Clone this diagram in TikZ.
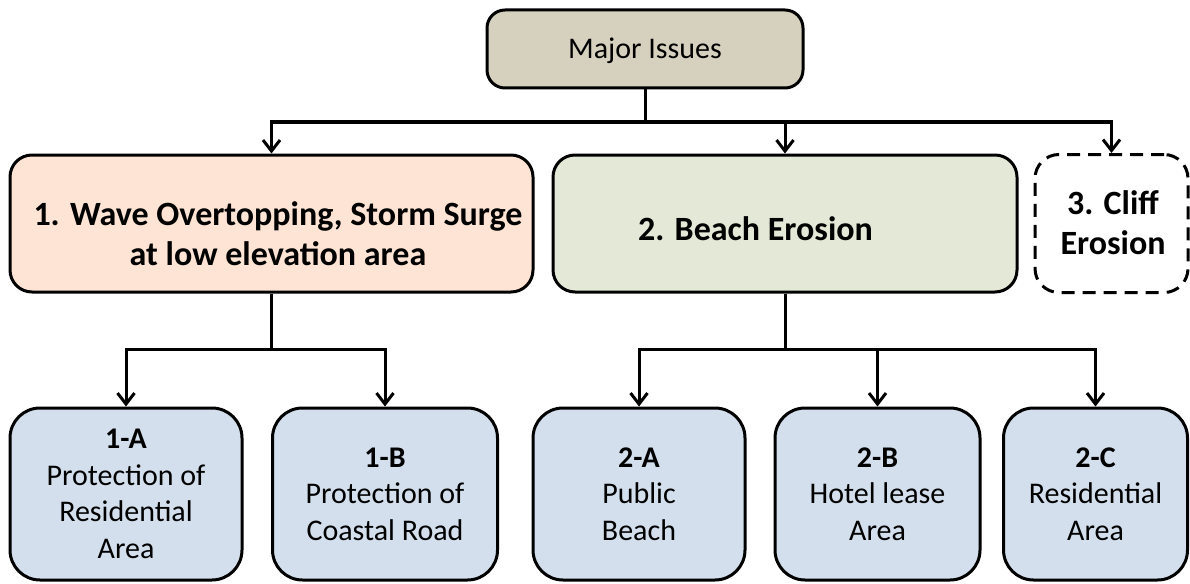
\documentclass[tikz,border=0pt]{standalone}
\usepackage{fontspec}
\setmainfont{Carlito}
\usetikzlibrary{arrows.meta}
\definecolor{topfill}{RGB}{214,209,190}
\definecolor{onefill}{RGB}{253,228,212}
\definecolor{twofill}{RGB}{227,232,215}
\definecolor{leaffill}{RGB}{211,223,236}
\tikzset{
  box/.style={draw=black, line width=3pt, inner sep=0pt, rounded corners=22pt},
  leafbox/.style={box, fill=leaffill, rounded corners=30pt, minimum height=172pt},
  conn/.style={line width=3pt, draw=black},
  arr/.style={conn, -{Straight Barb[length=11pt,width=17pt]}},
  boldtxt/.style={font=\fontsize{34pt}{40pt}\selectfont\bfseries, align=center, inner sep=0pt},
  regtxt/.style={font=\fontsize{30pt}{36.6pt}\selectfont, align=center, inner sep=0pt},
}
\begin{document}
\begin{tikzpicture}[x=1pt, y=-1pt]
\useasboundingbox (0,0) rectangle (1190,583);
% top
\node[box, fill=topfill, rounded corners=18pt, minimum width=316pt, minimum height=78pt] (top) at (645,49) {};
\node[regtxt, anchor=base] (toptxt) at (645,59) {Major Issues};
% level 1
\node[box, fill=onefill, minimum width=523pt, minimum height=137pt] (b1) at (271.5,223.5) {};
\node[boldtxt] (b1txt) at (278,234) {1. Wave Overtopping, Storm Surge\\at low elevation area};
\node[box, fill=twofill, minimum width=464pt, minimum height=137pt] (b2) at (785,223.5) {};
\node[boldtxt, anchor=base] (b2txt) at (755.5,240) {2. Beach Erosion};
\node[box, dash pattern=on 13pt off 8pt, fill=white, rounded corners=24pt, minimum width=153pt, minimum height=138pt] (b3) at (1111.5,223.5) {};
\node[boldtxt] (b3txt) at (1113,223) {3. Cliff\\Erosion};
% leaves
\node[leafbox, minimum width=232pt] (l1a) at (126,494) {};
\node[regtxt] (l1atxt) at (126,494) {\textbf{1-A}\\Protection of\\Residential\\Area};
\node[leafbox, minimum width=225pt] (l1b) at (385,494) {};
\node[regtxt] (l1btxt) at (385,494) {\textbf{1-B}\\Protection of\\Coastal Road};
\node[leafbox, minimum width=212pt] (l2a) at (639,494) {};
\node[regtxt] (l2atxt) at (639,494) {\textbf{2-A}\\Public\\Beach};
\node[leafbox, minimum width=205pt] (l2b) at (877.5,494) {};
\node[regtxt] (l2btxt) at (877.5,494) {\textbf{2-B}\\Hotel lease\\Area};
\node[leafbox, minimum width=184pt] (l2c) at (1095.5,494) {};
\node[regtxt] (l2ctxt) at (1095.5,494) {\textbf{2-C}\\Residential\\Area};
% connectors
\coordinate (j0) at (645,122);
\coordinate (j1) at (271.5,349);
\coordinate (j2) at (785,349);
\draw[conn] (top.south) -- (j0);
\draw[arr] (j0) -| (b1.north);
\draw[arr] (j0) -| (b2.north);
\draw[arr] (j0) -| (b3.north);
\draw[conn] (b1.south) -- (j1);
\draw[arr] (j1) -| (l1a.north);
\draw[arr] (j1) -| (l1b.north);
\draw[conn] (b2.south) -- (j2);
\draw[arr] (j2) -| (l2a.north);
\draw[arr] (j2) -| (l2b.north);
\draw[arr] (j2) -| (l2c.north);
\end{tikzpicture}
\end{document}
